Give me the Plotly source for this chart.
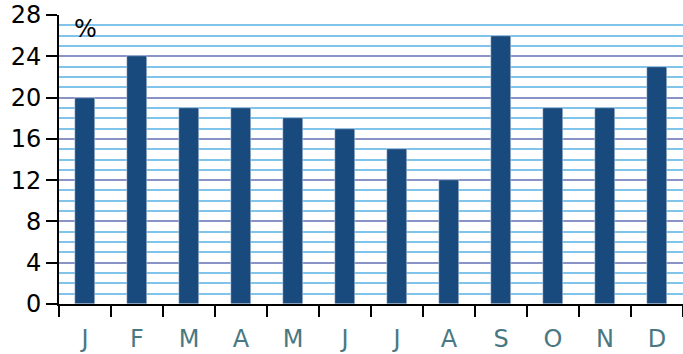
import plotly.graph_objects as go

months = ["J", "F", "M", "A", "M", "J", "J", "A", "S", "O", "N", "D"]
values = [20, 24, 19, 19, 18, 17, 15, 12, 26, 19, 19, 23]
positions = list(range(1, 13))
boundaries = [i + 0.5 for i in range(0, 13)]
y_ticks = [0, 4, 8, 12, 16, 20, 24, 28]

fig = go.Figure()
fig.add_trace(go.Bar(x=positions, y=values, marker_color="#184a7d", width=0.4))

fig.update_layout(
    width=683, height=354,
    margin=dict(l=59, r=0, t=15, b=50),
    plot_bgcolor="white", paper_bgcolor="white",
    showlegend=False,
    font=dict(family="DejaVu Sans", size=24, color="black"),
    bargap=0,
)
fig.update_xaxes(
    range=[0.5, 12.5], tickmode="array", tickvals=positions, ticktext=months,
    ticks="outside", ticklen=12, tickcolor="rgba(0,0,0,0)",
    tickfont=dict(color="#4a7882", size=24),
    showgrid=False, showline=True, linecolor="black", linewidth=2,
    minor=dict(tickmode="array", tickvals=boundaries, ticks="outside", ticklen=11,
               tickcolor="black", tickwidth=2, showgrid=False),
    zeroline=False,
)
fig.update_yaxes(
    range=[0, 28], tickmode="array", tickvals=y_ticks,
    ticks="outside", ticklen=11, tickcolor="black", tickwidth=2,
    showline=True, linecolor="black", linewidth=2,
    showgrid=True, gridcolor="#8a93c8", gridwidth=2,
    minor=dict(dtick=1, showgrid=True, gridcolor="#80c4ec", gridwidth=2),
    zeroline=False, tickfont=dict(size=24),
)
fig.add_annotation(x=1, y=26.6, text="%", showarrow=False, xref="x", yref="y",
                   font=dict(size=24, color="black"))
fig.write_html("out.html", config={"displayModeBar": False},
               post_script="document.body.style.margin='0';document.body.style.overflow='hidden';")
